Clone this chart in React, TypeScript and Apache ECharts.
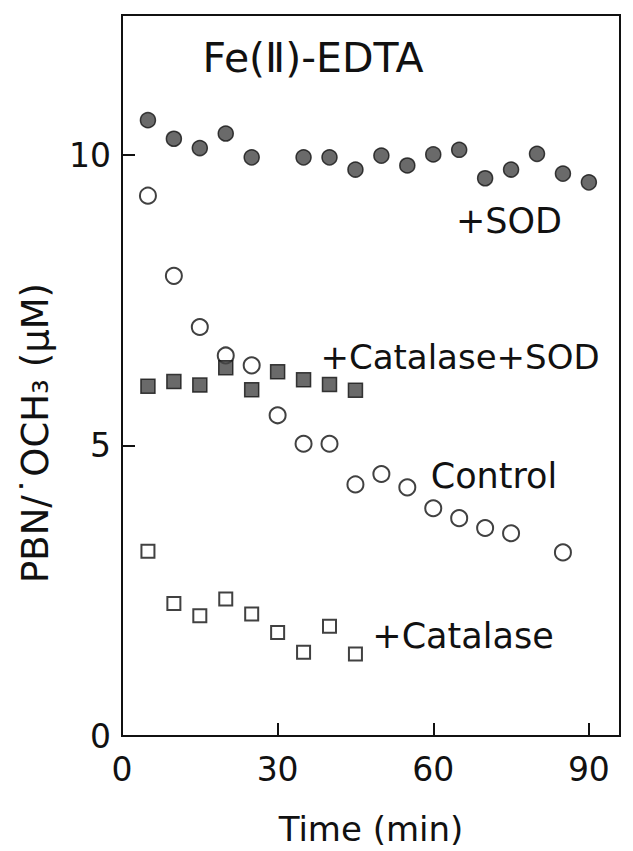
import React, { useEffect, useRef } from "react";
import * as echarts from "echarts";

// Time points (min)
const timesSOD = [5, 10, 15, 20, 25, 35, 40, 45, 50, 55, 60, 65, 70, 75, 80, 85, 90];
const valuesSOD = [10.6, 10.28, 10.12, 10.37, 9.96, 9.96, 9.96, 9.75, 9.99, 9.82, 10.01, 10.09, 9.6, 9.75, 10.02, 9.68, 9.53];

const timesControl = [5, 10, 15, 20, 25, 30, 35, 40, 45, 50, 55, 60, 65, 70, 75, 85];
const valuesControl = [9.3, 7.92, 7.04, 6.55, 6.38, 5.52, 5.03, 5.03, 4.33, 4.51, 4.28, 3.92, 3.75, 3.58, 3.49, 3.16];

const timesCatSOD = [5, 10, 15, 20, 25, 30, 35, 40, 45];
const valuesCatSOD = [6.02, 6.1, 6.04, 6.34, 5.96, 6.27, 6.13, 6.05, 5.95];

const timesCat = [5, 10, 15, 20, 25, 30, 35, 40, 45];
const valuesCat = [3.18, 2.28, 2.07, 2.36, 2.1, 1.78, 1.44, 1.89, 1.41];

const xTicks = [0, 30, 60, 90];
const yTicks = [0, 5, 10];

const FONT = "DejaVu Sans";
const INK = "#111111";

function pairs(xs: number[], ys: number[]) {
  return xs.map((x, i) => [x, ys[i]]);
}

export default function App() {
  const ref = useRef<HTMLDivElement>(null);
  useEffect(() => {
    if (!ref.current) return;
    const chart = echarts.init(ref.current, undefined, { renderer: "svg" });
    const textStyle = { fontFamily: FONT, color: INK, fontWeight: "normal" as any };
    chart.setOption({
      animation: false,
      backgroundColor: "#ffffff",
      grid: {
        left: 122,
        right: 13,
        top: 15,
        bottom: 106,
        show: true,
        borderColor: INK,
        borderWidth: 2,
        backgroundColor: "transparent",
      },
      xAxis: {
        type: "value",
        min: 0,
        max: 96,
        interval: 30,
        name: "Time (min)",
        nameLocation: "middle",
        nameGap: 76,
        nameTextStyle: { ...textStyle, fontSize: 34 },
        axisLine: { show: true, onZero: false, lineStyle: { color: INK, width: 2 } },
        axisTick: { show: true, inside: true, length: 13, lineStyle: { color: INK, width: 2 }, customValues: xTicks },
        axisLabel: { ...textStyle, fontSize: 33, margin: 17, customValues: xTicks },
        splitLine: { show: false },
      },
      yAxis: {
        type: "value",
        min: 0,
        max: 12.41,
        interval: 5,
        axisLine: { show: true, onZero: false, lineStyle: { color: INK, width: 2 } },
        axisTick: { show: true, inside: true, length: 13, lineStyle: { color: INK, width: 2 }, customValues: yTicks },
        axisLabel: { ...textStyle, fontSize: 33, margin: 11, customValues: yTicks },
        splitLine: { show: false },
      },
      series: [
        {
          name: "+SOD",
          type: "scatter",
          data: pairs(timesSOD, valuesSOD),
          symbol: "circle",
          symbolSize: 15,
          itemStyle: { color: "#454545", borderColor: "#111", borderWidth: 1.5 },
        },
        {
          name: "Control",
          type: "scatter",
          data: pairs(timesControl, valuesControl),
          symbol: "circle",
          symbolSize: 16,
          itemStyle: { color: "#ffffff", borderColor: "#111", borderWidth: 2 },
        },
        {
          name: "+Catalase+SOD",
          type: "scatter",
          data: pairs(timesCatSOD, valuesCatSOD),
          symbol: "rect",
          symbolSize: 14,
          itemStyle: { color: "#454545", borderColor: "#111", borderWidth: 1.5 },
        },
        {
          name: "+Catalase",
          type: "scatter",
          data: pairs(timesCat, valuesCat),
          symbol: "rect",
          symbolSize: 13,
          itemStyle: { color: "#ffffff", borderColor: "#111", borderWidth: 2 },
        },
      ],
      graphic: [
        { type: "text", x: 35, y: 433, rotation: Math.PI / 2, style: { text: "PBN/˙OCH₃ (μM)", font: `normal 37px "${FONT}"`, fill: INK, align: "center", verticalAlign: "middle" } },
        { type: "text", x: 313, y: 58, style: { text: "Fe(Ⅱ)-EDTA", font: `normal 41px "${FONT}"`, fill: INK, align: "center", verticalAlign: "middle" } },
        { type: "text", x: 509, y: 221, style: { text: "+SOD", font: `normal 35px "${FONT}"`, fill: INK, align: "center", verticalAlign: "middle" } },
        { type: "text", x: 460, y: 357, style: { text: "+Catalase+SOD", font: `normal 34px "${FONT}"`, fill: INK, align: "center", verticalAlign: "middle" } },
        { type: "text", x: 494, y: 476, style: { text: "Control", font: `normal 35px "${FONT}"`, fill: INK, align: "center", verticalAlign: "middle" } },
        { type: "text", x: 463, y: 636, style: { text: "+Catalase", font: `normal 35px "${FONT}"`, fill: INK, align: "center", verticalAlign: "middle" } },
      ],
    });
    return () => chart.dispose();
  }, []);
  return <div ref={ref} style={{ position: "fixed", left: 0, top: 0, width: 633, height: 851 }} />;
}
